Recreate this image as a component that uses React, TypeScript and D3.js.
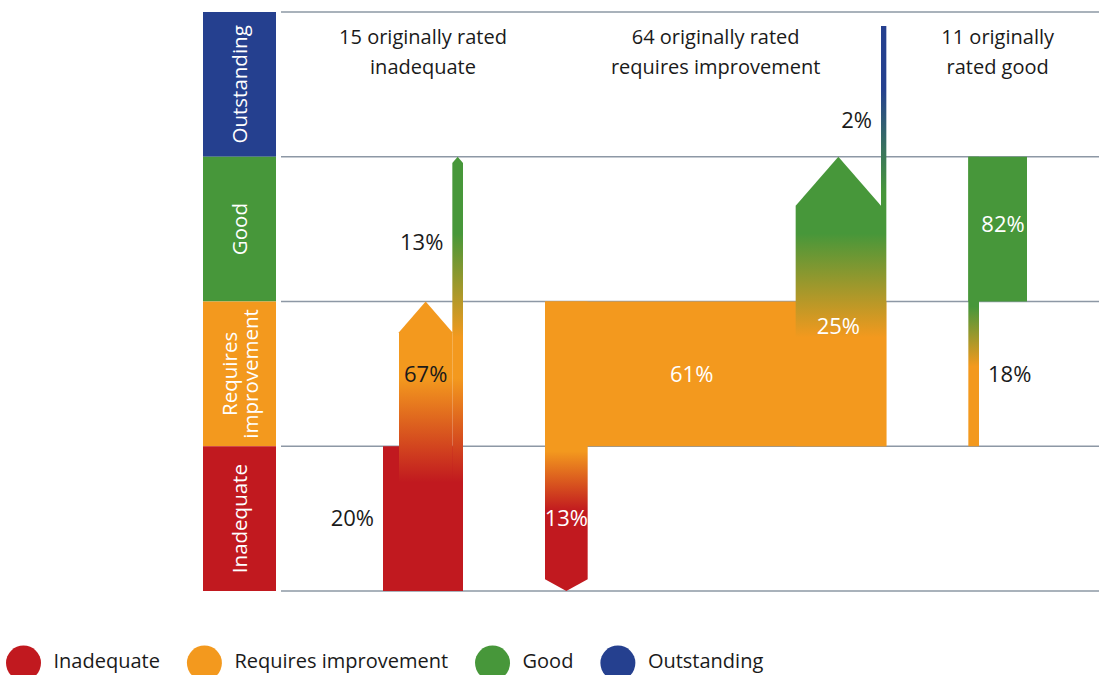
import { useEffect, useRef } from "react";
import * as d3 from "d3";

const ratings = ["Outstanding", "Good", "Requires improvement", "Inadequate"];
const ratingColors = ["#25408f", "#47973a", "#f3991e", "#c1191f"];
const axisLabelLines = [["Outstanding"], ["Good"], ["Requires", "improvement"], ["Inadequate"]];
const legendLabels = ["Inadequate", "Requires improvement", "Good", "Outstanding"];

const groupOrigins = ["Inadequate", "Requires improvement", "Good"];
const groupCounts = [15, 64, 11];
const groupTitles = [
  ["15 originally rated", "inadequate"],
  ["64 originally rated", "requires improvement"],
  ["11 originally", "rated good"],
];

// where each group's schools ended up
const flowDest = [
  ["Inadequate", "Requires improvement", "Good"],
  ["Inadequate", "Requires improvement", "Good", "Outstanding"],
  ["Requires improvement", "Good"],
];
const flowPct = [
  [20, 67, 13],
  [13, 61, 25, 2],
  [18, 82],
];
const flowCount = [
  [3, 10, 2],
  [8, 39, 16, 1],
  [2, 9],
];
// in = white inside, inDark = black inside, left/right = outside the bar
const flowLabelSide = [
  ["left", "inDark", "left"],
  ["in", "in", "in", "left"],
  ["right", "in"],
];
const flowLabelNudge = [
  [0, 0, 13],
  [0, 0, 97, 36],
  [0, -5],
];

const W = 1099;
const H = 675;
const FONT = "'Open Sans', 'Noto Sans', sans-serif";

export default function App() {
  const svgRef = useRef<SVGSVGElement>(null);

  useEffect(() => {
    if (!svgRef.current) return;
    const svg = d3.select(svgRef.current);
    svg.selectAll("*").remove();

    const y = d3.scaleBand().domain(ratings).range([12, 591]).padding(0);
    const bw = y.bandwidth();
    const color = d3.scaleOrdinal<string, string>().domain(ratings).range(ratingColors);
    const w = d3.scaleLinear().domain([0, d3.sum(groupCounts)]).range([0, 480]);
    const groupStart = 383;
    const groupGap = 82;
    const gridX0 = 281;
    const topCap = 26; // bars never run right up to the top rule

    const defs = svg.append("defs");

    // rating column on the left
    const axis = svg.append("g");
    axis
      .selectAll("rect")
      .data(ratings)
      .join("rect")
      .attr("x", 203)
      .attr("y", (d) => y(d)!)
      .attr("width", 73)
      .attr("height", bw)
      .attr("fill", (d) => color(d));
    ratings.forEach((r, i) => {
      const lines = axisLabelLines[i];
      const cy = y(r)! + bw / 2;
      const t = axis
        .append("text")
        .attr("transform", `translate(240,${cy}) rotate(-90)`)
        .attr("text-anchor", "middle")
        .attr("fill", "#fff")
        .style("font-family", FONT)
        .style("font-size", "20.5px");
      lines.forEach((l, j) => {
        t.append("tspan")
          .attr("x", 0)
          .attr("y", (j - (lines.length - 1) / 2) * 21 + 7)
          .text(l);
      });
    });

    // grid lines
    const bounds = [...ratings.map((r) => y(r)!), y(ratings[ratings.length - 1])! + bw];
    svg
      .append("g")
      .selectAll("line")
      .data(bounds)
      .join("line")
      .attr("x1", gridX0)
      .attr("x2", W)
      .attr("y1", (d) => d)
      .attr("y2", (d) => d)
      .attr("stroke", "#8d98a5")
      .attr("stroke-width", 1.5);

    const gradStops = (o: string, d: string, y0: number, y1: number) => {
      const io = ratings.indexOf(o);
      const id = ratings.indexOf(d);
      const up = id < io;
      const step = up ? -1 : 1;
      const res: { off: number; c: string }[] = [{ off: 0, c: ratingColors[io] }];
      for (let r = io; r !== id; r += step) {
        const nx = r + step;
        const b = up ? y(ratings[r])! : y(ratings[r])! + bw;
        const [a1, a2] = up ? [b + 36, b - 68] : [b + 5, b + 65];
        res.push({ off: (a1 - y0) / (y1 - y0), c: ratingColors[r] });
        res.push({ off: (a2 - y0) / (y1 - y0), c: ratingColors[nx] });
      }
      res.push({ off: 1, c: ratingColors[id] });
      let last = 0;
      return res.map((s) => {
        const off = Math.max(last, Math.min(1, Math.max(0, s.off)));
        last = off;
        return { off, c: s.c };
      });
    };

    const bars = svg.append("g");
    const labels = svg.append("g");
    let used = 0;
    groupOrigins.forEach((origin, gi) => {
      const gx = groupStart + w(used) + gi * groupGap;
      const n = groupCounts[gi];
      used += n;
      const oi = ratings.indexOf(origin);

      // title
      const t = labels
        .append("text")
        .attr("text-anchor", "middle")
        .attr("fill", "#1a1a1a")
        .style("font-family", FONT)
        .style("font-size", "20px");
      groupTitles[gi].forEach((l, j) => {
        t.append("tspan")
          .attr("x", gx + w(n) / 2)
          .attr("y", 44 + j * 30)
          .text(l);
      });

      // schools keeping their rating
      bars
        .append("rect")
        .attr("x", gx)
        .attr("y", y(origin)!)
        .attr("width", w(n))
        .attr("height", bw)
        .attr("fill", color(origin));

      let cum = 0;
      const segs = flowDest[gi].map((d, k) => {
        const x0 = gx + w(cum);
        cum += flowCount[gi][k];
        const x1 = gx + w(cum);
        return { d, k, x0, x1, di: ratings.indexOf(d) };
      });

      const order = [...segs].sort((a, b) => b.di - a.di);
      order.forEach((s) => {
        if (s.di === oi) return;
        const up = s.di < oi;
        const xc = (s.x0 + s.x1) / 2;
        const half = (s.x1 - s.x0) / 2;
        let y0: number, y1: number, pts: [number, number][];
        if (up) {
          y0 = y(origin)! + bw;
          y1 = Math.max(y(s.d)!, topCap);
          const tip = half < 4 ? 0 : half * 1.15;
          pts = [[s.x0, y0], [s.x0, y1 + tip], [xc, y1], [s.x1, y1 + tip], [s.x1, y0]];
        } else {
          y0 = y(origin)!;
          y1 = y(s.d)! + bw;
          const tip = half < 8 ? 0 : half * 0.55;
          pts = [[s.x0, y0], [s.x1, y0], [s.x1, y1 - tip], [xc, y1], [s.x0, y1 - tip]];
        }
        const id = `g${gi}-${s.k}`;
        const lg = defs
          .append("linearGradient")
          .attr("id", id)
          .attr("gradientUnits", "userSpaceOnUse")
          .attr("x1", 0)
          .attr("x2", 0)
          .attr("y1", y0)
          .attr("y2", y1);
        lg.selectAll("stop")
          .data(gradStops(origin, s.d, y0, y1))
          .join("stop")
          .attr("offset", (d) => d.off)
          .attr("stop-color", (d) => d.c);
        bars
          .append("path")
          .attr("d", d3.line()(pts) + "Z")
          .attr("fill", `url(#${id})`);
      });

      segs.forEach((s) => {
        const side = flowLabelSide[gi][s.k];
        const ly = y(s.d)! + bw / 2 + flowLabelNudge[gi][s.k];
        let lx = (s.x0 + s.x1) / 2;
        let anchor = "middle";
        if (side === "left") {
          lx = s.x0 - 9;
          anchor = "end";
        } else if (side === "right") {
          lx = s.x1 + 9;
          anchor = "start";
        }
        labels
          .append("text")
          .attr("x", lx)
          .attr("y", ly)
          .attr("dy", "0.35em")
          .attr("text-anchor", anchor)
          .attr("fill", side === "in" ? "#fff" : "#1a1a1a")
          .style("font-family", FONT)
          .style("font-size", "22px")
          .text(`${flowPct[gi][s.k]}%`);
      });
    });

    // legend
    const legend = svg.append("g");
    let lx = 6;
    legendLabels.forEach((l) => {
      const r = 17.5;
      legend
        .append("circle")
        .attr("cx", lx + r)
        .attr("cy", 663)
        .attr("r", r)
        .attr("fill", color(l));
      const t = legend
        .append("text")
        .attr("x", lx + r + 30)
        .attr("y", 661)
        .attr("dy", "0.35em")
        .attr("fill", "#1a1a1a")
        .style("font-family", FONT)
        .style("font-size", "20px")
        .text(l);
      const tw = (t.node() as SVGTextElement).getComputedTextLength();
      lx = lx + r + 30 + tw + 27;
    });
  }, []);

  return (
    <svg
      ref={svgRef}
      width={W}
      height={H}
      style={{ position: "absolute", left: 0, top: 0, background: "#fff" }}
    />
  );
}
